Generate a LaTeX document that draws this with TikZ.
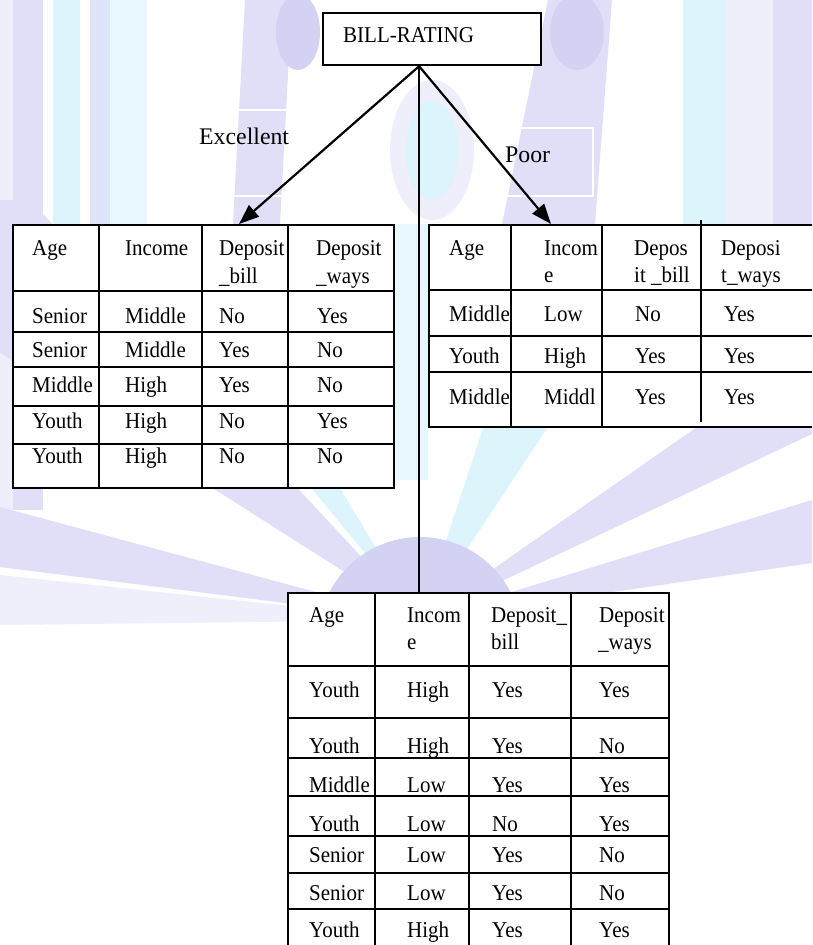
\documentclass[tikz,border=0pt]{standalone}
\usepackage{fontspec}
\setmainfont{Liberation Serif}[FakeStretch=0.93]
\newfontfamily\lblfont{Liberation Serif}
\usetikzlibrary{arrows.meta}
\definecolor{wmlav}{RGB}{224,223,247}
\definecolor{wmlavdark}{RGB}{212,210,242}
\definecolor{wmcyan}{RGB}{220,244,251}
\definecolor{wmpale}{RGB}{239,238,251}
\definecolor{wmpalecyan}{RGB}{232,247,252}
\begin{document}
\begin{tikzpicture}[x=1pt,y=-1pt,
  grid/.style={line width=1.8pt},
  tbl/.style={draw, fill=white, line width=1.8pt, inner sep=0pt, anchor=north west},
  cell/.style={anchor=base west, inner sep=0pt, font=\fontsize{22.6}{26}\selectfont},
  lbl/.style={anchor=base west, inner sep=0pt, font=\lblfont\fontsize{23.8}{28}\selectfont},
  arr/.style={line width=2.2pt, -{Triangle[length=20pt,width=15pt]}},
  ghost/.style={draw=white, line width=1.5pt},
]
\useasboundingbox (0,0) rectangle (812,945);
\clip (0,0) rectangle (812,945);
\fill[white] (0,0) rectangle (812,945);

% ---- faint logo in the background ----
% upper bands
\fill[wmpale] (0,0) rectangle (13,540);
\fill[wmlav] (13,0) rectangle (43,510);
\fill[wmcyan] (53,0) rectangle (80,224);
\fill[wmlav!70!wmcyan] (90,0) rectangle (110,224);
\fill[wmpalecyan] (110,0) rectangle (147,224);
\fill[wmcyan] (683,0) rectangle (726,224);
\fill[wmpale] (726,0) rectangle (773,224);
\fill[wmlav] (773,0) rectangle (812,224);
% figures and centre
\fill[wmlav] (245,0) -- (292,0) -- (280,224) -- (233,224) -- cycle;
\fill[wmlavdark] (298,32) ellipse [x radius=22, y radius=38];
\fill[wmlav] (548,0) -- (612,0) -- (595,224) -- (502,224) -- cycle;
\fill[wmlavdark] (577,32) ellipse [x radius=27, y radius=38];
\fill[wmpale] (432,150) ellipse [x radius=42, y radius=70];
\fill[wmcyan] (432,150) ellipse [x radius=26, y radius=50];
\fill[wmpalecyan] (395,224) rectangle (428,480);
% sunburst
\fill[wmlav] (420,620) -- (0,507) -- (0,567) -- cycle;
\fill[wmpale] (420,620) -- (0,575) -- (0,625) -- cycle;
\fill[wmlav] (420,620) -- (-240,200) -- (30,200) -- cycle;
\fill[wmcyan] (420,620) -- (132,270) -- (207,270) -- cycle;
\fill[wmlav] (420,620) -- (812,500) -- (812,563) -- cycle;
\fill[wmlav] (420,620) -- (822,340) -- (1010,340) -- cycle;
\fill[wmcyan] (420,620) -- (535,270) -- (652,270) -- cycle;
\fill[wmlavdark] (420,639) circle [radius=102];
% outlines of the label boxes
\draw[ghost] (185,110) rectangle (330,196);
\draw[ghost] (485,128) rectangle (593,196);

% ---- root ----
\node[draw, fill=white, line width=2.2pt, minimum width=218pt, minimum height=52pt,
      anchor=north west, inner sep=0pt] (root) at (322,12) {};
\node[cell] (rootlbl) at (343,42) {BILL-RATING};

% ---- tables ----
\node[tbl, minimum width=381pt, minimum height=263pt] (tblA) at (12,224) {};
\node[tbl, minimum width=400pt, minimum height=202pt] (tblB) at (428,224) {};
\node[tbl, minimum width=381pt, minimum height=400pt] (tblC) at (287,592) {};

% table A (Excellent)
\node[cell] (A-h-1) at (32,255) {Age};
\node[cell] (A-h-2) at (125,255) {Income};
\node[cell] (A-h-3) at (219,255) {Deposit};
\node[cell] (A-h-3b) at (219,283) {\_bill};
\node[cell] (A-h-4) at (316,255) {Deposit};
\node[cell] (A-h-4b) at (316,283) {\_ways};
\foreach \y/\a/\b/\c/\d [count=\r] in {323/Senior/Middle/No/Yes, 357/Senior/Middle/Yes/No,
    392/Middle/High/Yes/No, 428/Youth/High/No/Yes, 463/Youth/High/No/No} {
  \node[cell] (A-\r-1) at (32,\y) {\a};
  \node[cell] (A-\r-2) at (125,\y) {\b};
  \node[cell] (A-\r-3) at (219,\y) {\c};
  \node[cell] (A-\r-4) at (317,\y) {\d};
}
\foreach \x in {99,202,288} \draw[grid] (\x,224) -- (\x,487);
\foreach \y in {291,332,367,406,444} \draw[grid] (12,\y) -- (393,\y);

% table B (Poor)
\node[cell] (B-h-1) at (449,255) {Age};
\node[cell] (B-h-2) at (544,255) {Incom};
\node[cell] (B-h-2b) at (544,282) {e};
\node[cell] (B-h-3) at (634,255) {Depos};
\node[cell] (B-h-3b) at (634,282) {it \_bill};
\node[cell] (B-h-4) at (721,255) {Deposi};
\node[cell] (B-h-4b) at (721,282) {t\_ways};
\foreach \y/\a/\b/\c/\d [count=\r] in {321/Middle/Low/No/Yes, 363/Youth/High/Yes/Yes,
    404/Middle/Middl/Yes/Yes} {
  \node[cell] (B-\r-1) at (449,\y) {\a};
  \node[cell] (B-\r-2) at (544,\y) {\b};
  \node[cell] (B-\r-3) at (635,\y) {\c};
  \node[cell] (B-\r-4) at (724,\y) {\d};
}
\foreach \x in {511,602} \draw[grid] (\x,224) -- (\x,426);
\draw[grid] (701,220) -- (701,422);
\foreach \y in {290,336,372} \draw[grid] (428,\y) -- (812,\y);

% table C (middle branch)
\node[cell] (C-h-1) at (309,622) {Age};
\node[cell] (C-h-2) at (407,622) {Incom};
\node[cell] (C-h-2b) at (407,649) {e};
\node[cell] (C-h-3) at (491,622) {Deposit\_};
\node[cell] (C-h-3b) at (491,649) {bill};
\node[cell] (C-h-4) at (599,622) {Deposit};
\node[cell] (C-h-4b) at (598,649) {\_ways};
\foreach \y/\a/\b/\c/\d [count=\r] in {697/Youth/High/Yes/Yes, 753/Youth/High/Yes/No,
    792/Middle/Low/Yes/Yes, 831/Youth/Low/No/Yes, 862/Senior/Low/Yes/No,
    900/Senior/Low/Yes/No, 937/Youth/High/Yes/Yes} {
  \node[cell] (C-\r-1) at (309,\y) {\a};
  \node[cell] (C-\r-2) at (407,\y) {\b};
  \node[cell] (C-\r-3) at (492,\y) {\c};
  \node[cell] (C-\r-4) at (599,\y) {\d};
}
\foreach \x in {375,469,571} \draw[grid] (\x,592) -- (\x,945);
\foreach \y in {666,718,758,796,836,873,909} \draw[grid] (287,\y) -- (668,\y);

% ---- branches ----
\coordinate (fork) at ([xshift=-13pt]root.south);
\coordinate (tipA) at (239,224);
\coordinate (tipB) at (551,224);
\draw[line width=1.8pt] (fork) -- (fork |- tblC.north);
\draw[arr] (fork) -- (tipA);
\draw[arr] (fork) -- (tipB);
\node[lbl] (lblE) at (199,144) {Excellent};
\node[lbl] (lblP) at (505,162) {Poor};
\end{tikzpicture}
\end{document}
